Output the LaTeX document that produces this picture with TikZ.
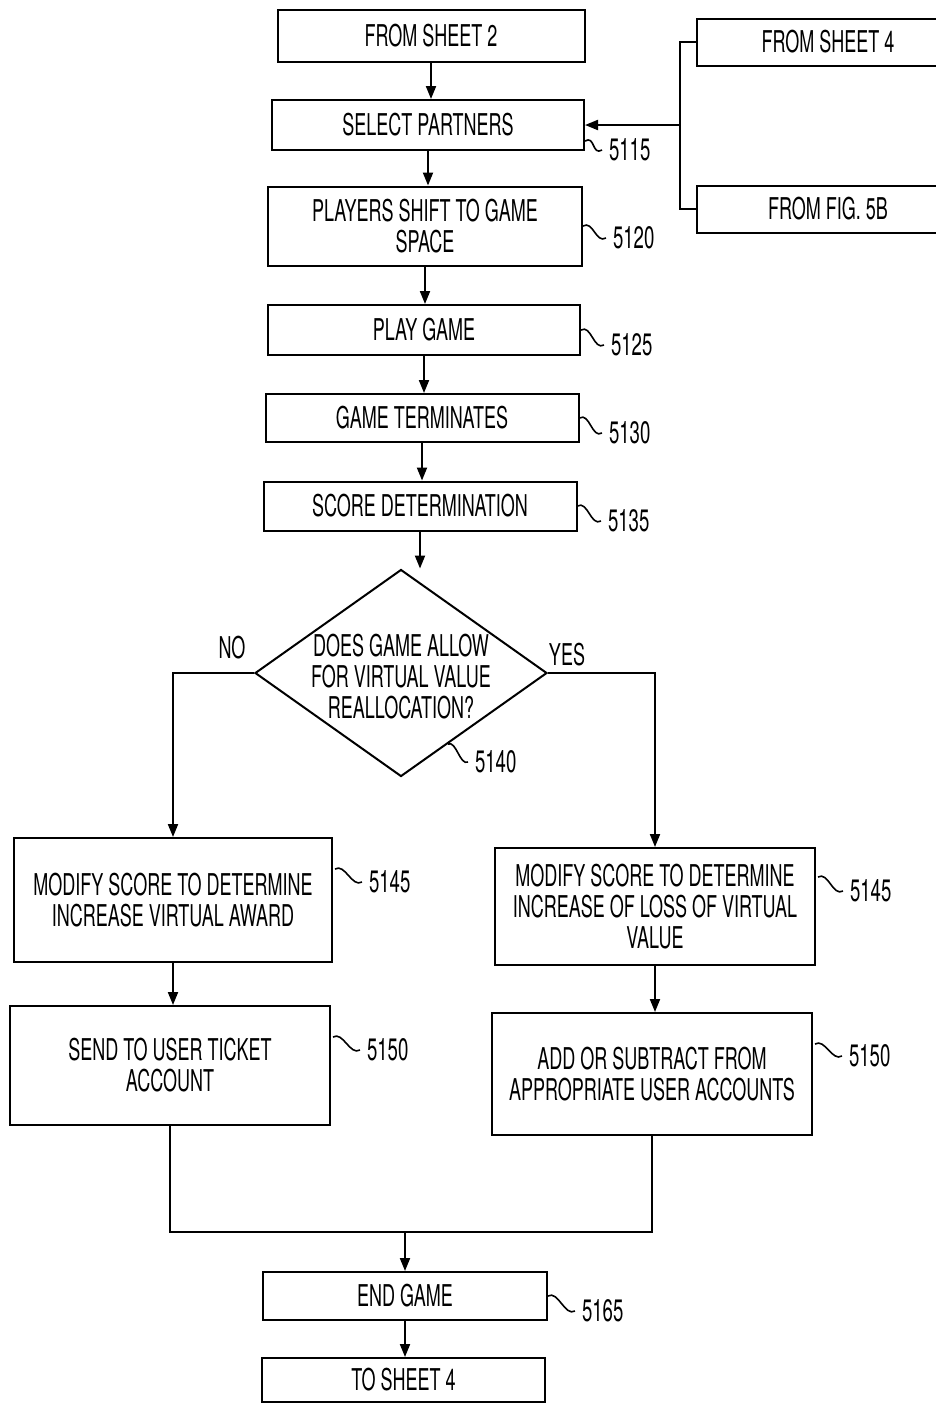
\documentclass[tikz,border=0pt]{standalone}
\usepackage{fontspec}
\setmainfont{TeX Gyre Heros}[FakeStretch=0.6]
\usetikzlibrary{shapes.geometric,arrows.meta,calc}
\begin{document}
\begin{tikzpicture}[x=0.5pt,y=-0.5pt, line width=1pt,
  box/.style={draw, rectangle, inner sep=0pt, align=center, font=\fontsize{15}{15.5}\selectfont},
  arr/.style={-{Triangle[length=6.5pt,width=5pt]}},
  lbl/.style={font=\fontsize{15.5}{16}\selectfont, anchor=west, inner xsep=3pt, inner ysep=1pt},
  txt/.style={font=\fontsize{15}{15.5}\selectfont, inner sep=1pt, align=center},
  sq/.style={line width=0.8pt}]
\useasboundingbox (0,0) rectangle (936,1405);
\clip (0,0) rectangle (936,1405);

% main chain
\node[box, minimum width=153.5pt, minimum height=26pt] (s2) at (431,36) {FROM SHEET 2};
\node[box, minimum width=156pt, minimum height=25pt] (sp) at (428,125) {SELECT PARTNERS};
\node[box, minimum width=157pt, minimum height=39.5pt] (ps) at (425,226) {PLAYERS SHIFT TO GAME\\SPACE};
\node[box, minimum width=156pt, minimum height=25pt] (pg) at (424,330) {PLAY GAME};
\node[box, minimum width=156.5pt, minimum height=24pt] (gt) at (422,418) {GAME TERMINATES};
\node[box, minimum width=156.5pt, minimum height=24.5pt] (sd) at (420,506) {SCORE DETERMINATION};
\node[draw, diamond, inner sep=0pt, minimum width=146pt, minimum height=103.5pt] (q) at (401,673) {};
\node[txt] (qt) at (401,677) {DOES GAME ALLOW\\FOR VIRTUAL VALUE\\REALLOCATION?};

% side inputs
\node[box, minimum width=131pt, minimum height=23.5pt] (s4) at (828,42) {FROM SHEET 4};
\node[box, minimum width=131pt, minimum height=23.5pt] (f5b) at (828,209) {FROM FIG. 5B};
\coordinate (bus) at (680,125);

% branches
\node[box, minimum width=159pt, minimum height=62pt] (lm) at (173,900) {MODIFY SCORE TO DETERMINE\\INCREASE VIRTUAL AWARD};
\node[box, minimum width=160pt, minimum height=58.5pt] (rm) at (655,906.5) {MODIFY SCORE TO DETERMINE\\INCREASE OF LOSS OF VIRTUAL\\VALUE};
\node[box, minimum width=160pt, minimum height=59.5pt] (su) at (170,1065.5) {SEND TO USER TICKET\\ACCOUNT};
\node[box, minimum width=160pt, minimum height=61pt] (as) at (652,1074) {ADD OR SUBTRACT FROM\\APPROPRIATE USER ACCOUNTS};
\node[box, minimum width=142pt, minimum height=24pt] (eg) at (405,1296) {END GAME};
\node[box, minimum width=141.5pt, minimum height=22pt] (ts) at (403.5,1380) {TO SHEET 4};
\coordinate (j) at (405,1232);

\node[txt] (no) at (232,648) {NO};
\node[txt] (yes) at (567,655) {YES};

% connectors
\draw[arr] (s2.south) -- (s2.south |- sp.north);
\draw[arr] (sp.south) -- (sp.south |- ps.north);
\draw[arr] (ps.south) -- (ps.south |- pg.north);
\draw[arr] (pg.south) -- (pg.south |- gt.north);
\draw[arr] (gt.south) -- (gt.south |- sd.north);
\draw[arr] (sd.south) -- (sd.south |- q.north);
\draw (s4.west) -| (bus) |- (f5b.west);
\draw[arr] (bus) -- (sp.east);
\draw[arr] (q.west) -| (lm.north);
\draw[arr] (q.east) -| (rm.north);
\draw[arr] (lm.south) -- (lm.south |- su.north);
\draw[arr] (rm.south) -- (rm.south |- as.north);
\draw (su.south) |- (j) -| (as.south);
\draw[arr] (j) -- (eg.north);
\draw[arr] (eg.south) -- (eg.south |- ts.north);

% reference numerals
\node[lbl] (n5115) at (602,150) {5115};
\draw[sq] ($(sp.south east)+(0,-10)$) .. controls +(10,-6) and +(-10,6) .. (n5115.west);
\node[lbl] (n5120) at (606,238) {5120};
\draw[sq] (ps.east) .. controls +(10,-6) and +(-10,6) .. (n5120.west);
\node[lbl] (n5125) at (604,345) {5125};
\draw[sq] (pg.east) .. controls +(10,-6) and +(-10,6) .. (n5125.west);
\node[lbl] (n5130) at (602,433) {5130};
\draw[sq] (gt.east) .. controls +(10,-6) and +(-10,6) .. (n5130.west);
\node[lbl] (n5135) at (601,521) {5135};
\draw[sq] (sd.east) .. controls +(10,-6) and +(-10,6) .. (n5135.west);
\node[lbl] (n5140) at (468,762) {5140};
\draw[sq] ($(q.south)!0.32!(q.east)$) .. controls +(8,-4) and +(-8,4) .. (n5140.west);
\node[lbl] (n5145a) at (362,882) {5145};
\draw[sq] ($(lm.north east)+(2,32)$) .. controls +(10,-6) and +(-10,6) .. (n5145a.west);
\node[lbl] (n5145b) at (843,891) {5145};
\draw[sq] ($(rm.north east)+(2,30)$) .. controls +(10,-6) and +(-10,6) .. (n5145b.west);
\node[lbl] (n5150a) at (360,1050) {5150};
\draw[sq] ($(su.north east)+(2,32)$) .. controls +(10,-6) and +(-10,6) .. (n5150a.west);
\node[lbl] (n5150b) at (842,1056) {5150};
\draw[sq] ($(as.north east)+(2,32)$) .. controls +(10,-6) and +(-10,6) .. (n5150b.west);
\node[lbl] (n5165) at (575,1311) {5165};
\draw[sq] (eg.east) .. controls +(10,-6) and +(-10,6) .. (n5165.west);
\end{tikzpicture}
\end{document}
